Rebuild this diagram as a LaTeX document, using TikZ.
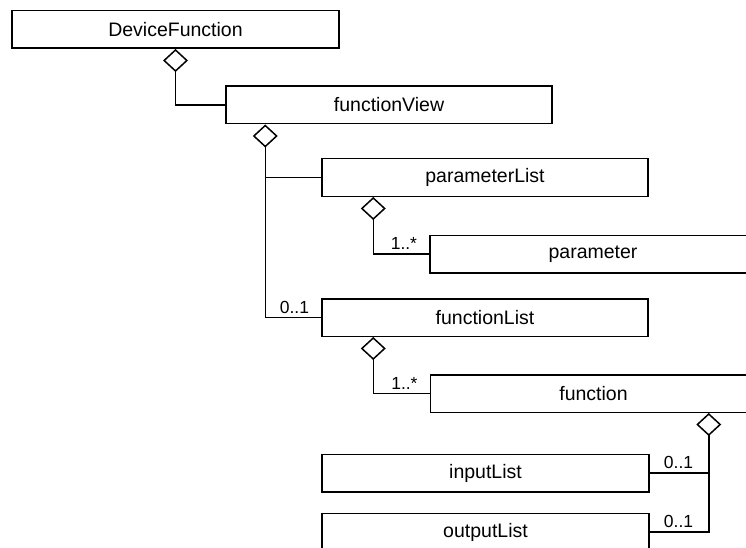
\documentclass[tikz,border=0pt]{standalone}
\usepackage{fontspec}
\setmainfont{Liberation Sans}
\usetikzlibrary{arrows.meta}
\begin{document}
\begin{tikzpicture}[x=1pt,y=-1pt]
	\tikzstyle{every node}+=[font=\fontsize{19.5}{22}\selectfont]
	\tikzstyle{cls}=[draw=black, line width=1.5pt, minimum width=326pt, minimum height=37.5pt, inner sep=0pt]
	\tikzstyle{link}=[black, line width=1.5pt]
	\tikzstyle{agg}=[link, {Diamond[open,width=25pt,length=23pt]}-]
	\tikzstyle{mult}=[font=\fontsize{17.5}{20}\selectfont, inner sep=4pt]
	\useasboundingbox (0,0) rectangle (746,548);
	\clip (0,0) rectangle (746,548);
	\node [cls, minimum width=327pt] (dev) at (175.5,29.5) {DeviceFunction};
	\node [cls] (view) at (389,105) {functionView};
	\node [cls] (plist) at (485,177.5) {parameterList};
	\node [cls] (par) at (593,254) {parameter};
	\node [cls] (flist) at (485,317.5) {functionList};
	\node [cls] (fn) at (593.5,393.5) {function};
	\node [cls, minimum width=327pt] (inp) at (485.5,473) {inputList};
	\node [cls, minimum width=327pt] (out) at (485.5,532) {outputList};
	\coordinate (vs) at ([xshift=40pt]view.south west);
	\coordinate (ps) at ([xshift=52pt]plist.south west);
	\coordinate (ls) at ([xshift=52pt]flist.south west);
	\coordinate (fs) at ([xshift=279pt]fn.south west);
	\draw [agg] (dev.south) |- (view.west);
	\draw [agg] (vs) |- (flist.west);
	\draw [link] (plist.west) -- (plist.west -| vs);
	\draw [agg] (ps) |- (par.west);
	\draw [agg] (ls) |- (fn.west);
	\draw [agg] (fs) |- (out.east);
	\draw [link] (inp.east) -- (inp.east -| fs);
	\node [mult, above left, xshift=-8pt] (m_par) at (par.west) {1..*};
	\node [mult, above left, xshift=-8pt] (m_flist) at (flist.west) {0..1};
	\node [mult, above left, xshift=-8pt] (m_fn) at (fn.west) {1..*};
	\node [mult, above right, xshift=10pt] (m_inp) at (inp.east) {0..1};
	\node [mult, above right, xshift=10pt] (m_out) at (out.east) {0..1};
\end{tikzpicture}
\end{document}
